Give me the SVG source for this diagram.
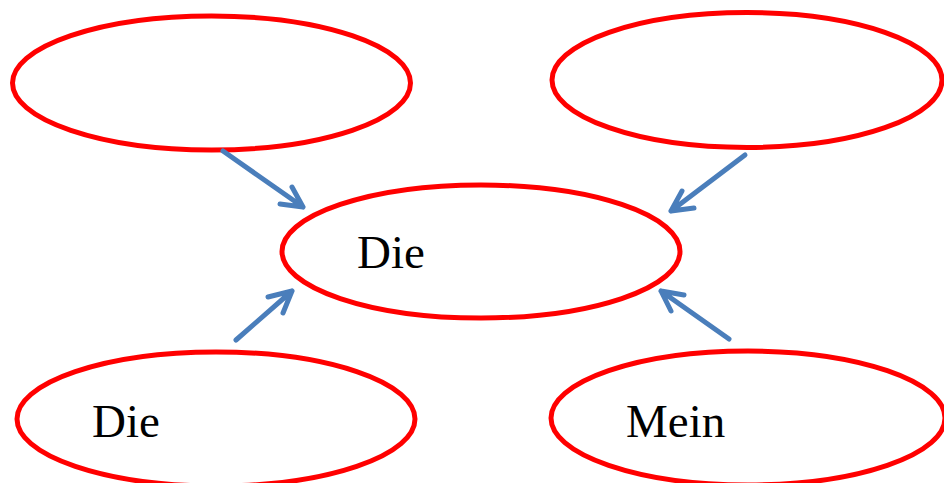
<svg xmlns="http://www.w3.org/2000/svg" width="944" height="483" viewBox="0 0 944 483">
<style>
.node{fill:none;stroke:#FF0000;stroke-width:5}
.lbl{font-family:"Liberation Serif","Times New Roman",serif;font-size:47px;fill:#000}
.conn{fill:none;stroke:#4A7EBB;stroke-width:5;stroke-linecap:round;stroke-linejoin:round}
</style>
<rect width="944" height="483" fill="#fff"/>
<g id="node-top-left"><ellipse class="node" cx="211.5" cy="83" rx="199" ry="67"/></g>
<g id="node-top-right"><ellipse class="node" cx="747" cy="80" rx="195" ry="67.5"/></g>
<g id="node-center"><ellipse class="node" cx="481" cy="251.5" rx="199" ry="66.5"/><text class="lbl" x="357" y="268">Die</text></g>
<g id="node-bottom-left"><ellipse class="node" cx="216" cy="419" rx="199" ry="67"/><text class="lbl" x="92" y="437">Die</text></g>
<g id="node-bottom-right"><ellipse class="node" cx="748" cy="418" rx="197" ry="67"/><text class="lbl" x="626" y="437">Mein</text></g>
<g id="connectors">
<path class="conn" d="M223,151 L303,207 M292,187 L303,207 L280,204"/>
<path class="conn" d="M745,155 L671,211 M682,191 L671,211 L694,208"/>
<path class="conn" d="M236,340 L292,291 M268,297 L292,291 L283,313"/>
<path class="conn" d="M729,339 L661,291 M684,295 L661,291 L671,311"/>
</g>
</svg>
